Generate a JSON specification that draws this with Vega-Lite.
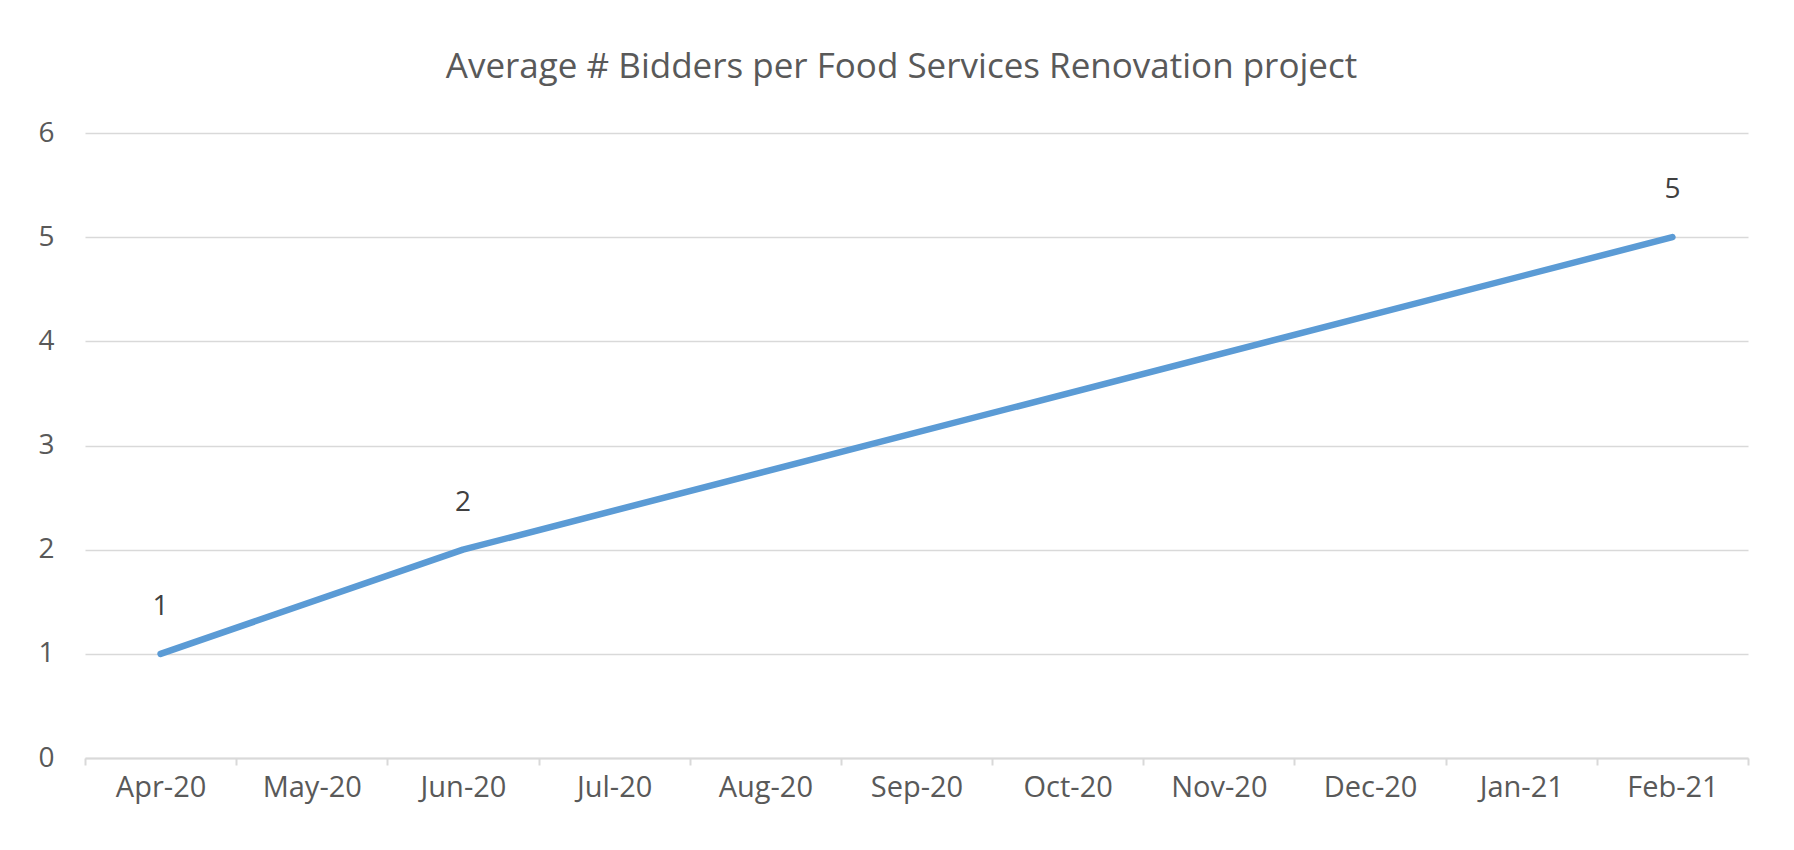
{
  "$schema": "https://vega.github.io/schema/vega-lite/v6.json",
  "autosize": "none",
  "width": 1663,
  "height": 625,
  "padding": {"left": 85, "top": 133, "right": 46, "bottom": 92},
  "background": "white",
  "title": {
    "text": "Average # Bidders per Food Services Renovation project",
    "font": "Open Sans",
    "fontSize": 35,
    "fontWeight": "normal",
    "color": "#595959",
    "anchor": "middle",
    "offset": 34,
    "dx": -15
  },
  "config": {
    "view": {"stroke": null},
    "font": "Open Sans"
  },
  "data": {
    "values": [
      {"month": "Apr-20", "bidders": 1},
      {"month": "Jun-20", "bidders": 2},
      {"month": "Feb-21", "bidders": 5}
    ]
  },
  "encoding": {
    "x": {
      "field": "month",
      "type": "nominal",
      "sort": null,
      "scale": {
        "domain": ["Apr-20", "May-20", "Jun-20", "Jul-20", "Aug-20", "Sep-20", "Oct-20", "Nov-20", "Dec-20", "Jan-21", "Feb-21"],
        "paddingInner": 0,
        "paddingOuter": 0
      },
      "axis": {
        "title": null,
        "labelAngle": 0,
        "labelFont": "Open Sans",
        "labelFontSize": 29,
        "labelColor": "#595959",
        "labelPadding": 22,
        "labelBaseline": "middle",
        "tickBand": "extent",
        "tickSize": 7,
        "tickWidth": 2,
        "tickColor": "#d9d9d9",
        "domainColor": "#d9d9d9",
        "domainWidth": 2,
        "grid": false
      }
    },
    "y": {
      "field": "bidders",
      "type": "quantitative",
      "scale": {"domain": [0, 6], "nice": false},
      "axis": {
        "title": null,
        "values": [0, 1, 2, 3, 4, 5, 6],
        "labelFont": "Open Sans",
        "labelFontSize": 28,
        "labelColor": "#595959",
        "labelPadding": 31,
        "ticks": false,
        "domain": false,
        "grid": true,
        "gridColor": "#d9d9d9",
        "gridWidth": 1.5
      }
    }
  },
  "layer": [
    {
      "mark": {"type": "line", "color": "#5B9BD5", "strokeWidth": 6.5, "strokeCap": "round", "strokeJoin": "round"}
    },
    {
      "mark": {"type": "text", "dy": -47, "font": "Open Sans", "fontSize": 28, "color": "#404040", "baseline": "middle"},
      "encoding": {"text": {"field": "bidders", "type": "quantitative"}}
    }
  ]
}
